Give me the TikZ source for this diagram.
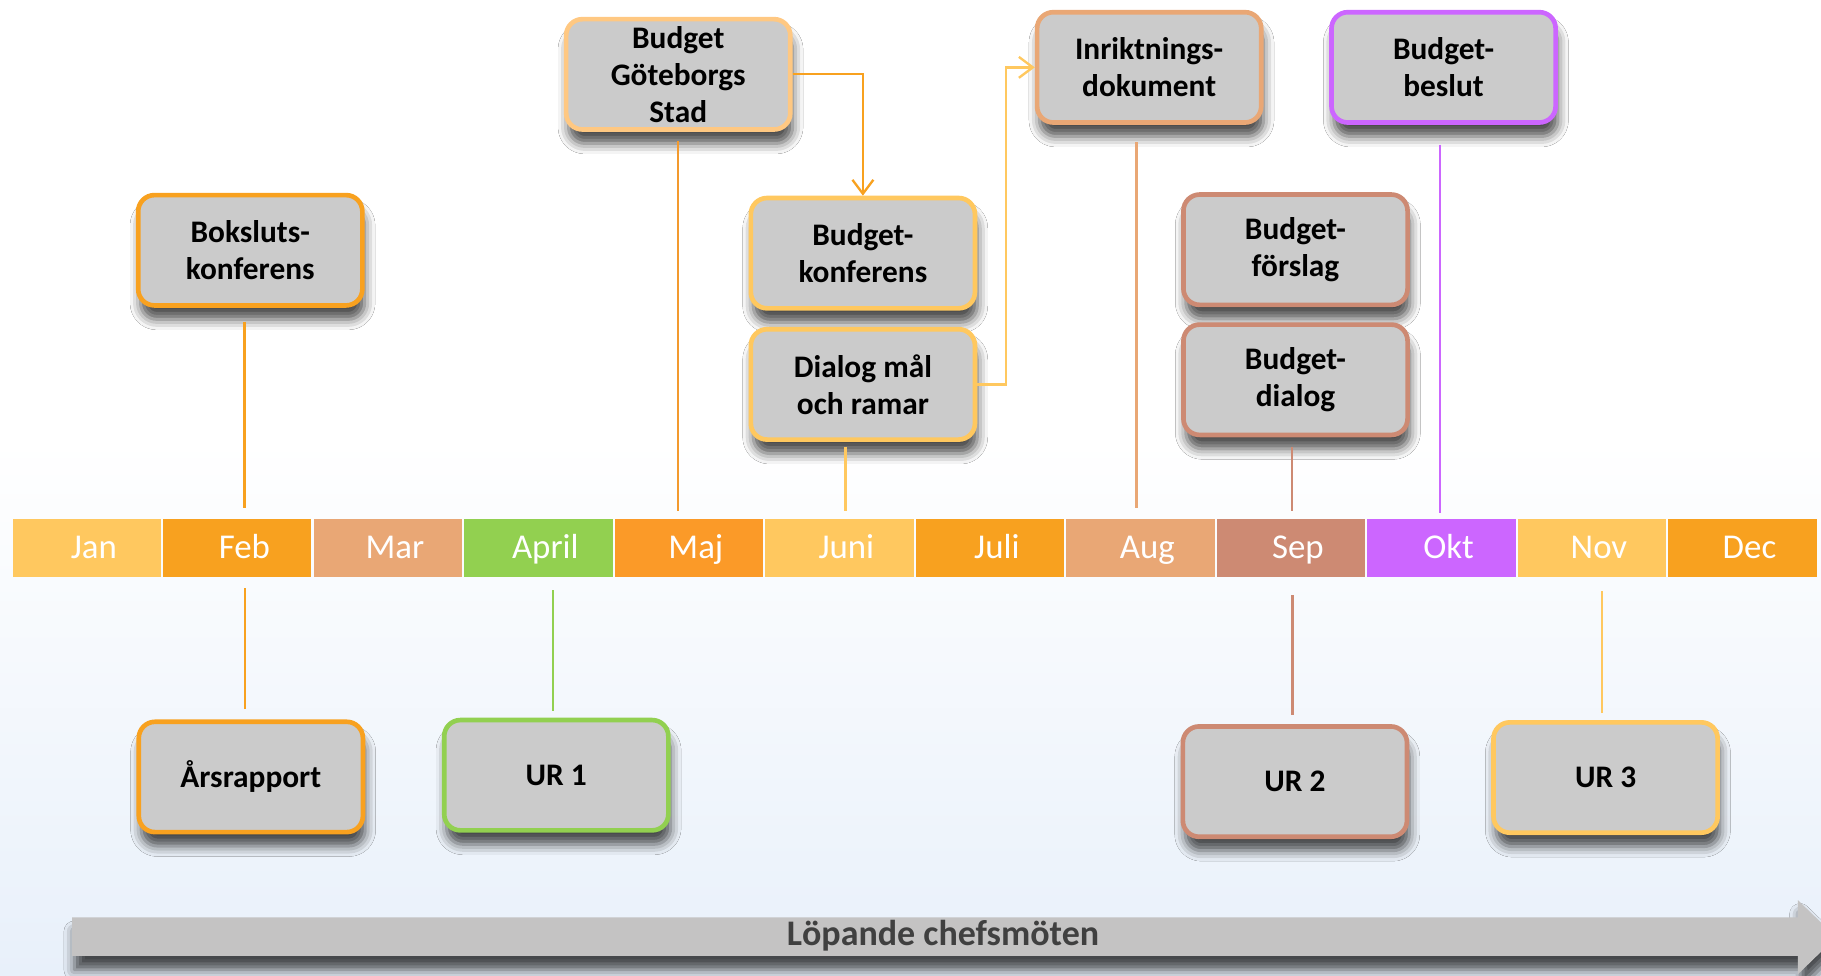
\documentclass[tikz,border=0pt]{standalone}
\usepackage{fontspec}
\setmainfont{Carlito}
\usetikzlibrary{arrows.meta,shadows.blur}

\definecolor{cYel}{HTML}{FFC85F}
\definecolor{cOra}{HTML}{F8A11F}
\definecolor{cMaj}{HTML}{FB9A28}
\definecolor{cTan}{HTML}{E9A775}
\definecolor{cGrn}{HTML}{92D050}
\definecolor{cSep}{HTML}{CD8A73}
\definecolor{cOkt}{HTML}{CC66FF}
\definecolor{cPeach}{HTML}{FFC882}
\definecolor{cLine}{HTML}{F39A2E}
\definecolor{boxGray}{HTML}{CBCBCB}
\definecolor{arrowGray}{HTML}{C4C3C3}
\definecolor{bgBlue}{HTML}{E8F0FA}
\definecolor{txtGray}{HTML}{404040}

\tikzset{
  softshadow/.style={blur shadow={shadow xshift=2pt, shadow yshift=-12pt, shadow opacity=70, shadow blur radius=9pt}},
  box/.style={draw=#1, line width=4pt, fill=boxGray, rounded corners=14pt,
    minimum width=193pt, minimum height=95pt, align=center, inner sep=2pt,
    font=\fontsize{27}{32}\selectfont\bfseries, softshadow},
  month/.style={fill=#1, minimum width=127.6pt, minimum height=50pt, inner sep=0pt},
  monthtxt/.style={text=white, inner sep=0pt, text height=22pt, text depth=4pt, font=\fontsize{30}{36}\selectfont},
  conn/.style={draw=#1, line width=2pt},
  flow/.style={draw=#1, line width=2pt, -{Straight Barb[length=12pt,width=18pt]}},
}

\begin{document}
\begin{tikzpicture}[x=1pt,y=-1pt]
    \useasboundingbox (0,0) rectangle (1568,840);
    \clip (0,0) rectangle (1568,840);

    % background
    \fill[white] (0,0) rectangle (1568,380);
    \shade[top color=white, bottom color=bgBlue] (0,379) rectangle (1568,840);

    % months
    \foreach \lab/\col [count=\i] in {Jan/cYel, Feb/cOra, Mar/cTan, April/cGrn, Maj/cMaj, Juni/cYel,
        Juli/cOra, Aug/cTan, Sep/cSep, Okt/cOkt, Nov/cYel, Dec/cOra}
    {
        \node[month=\col] (m\i) at ({74.8+129.6*(\i-1)},472) {};
        \node[monthtxt] (t\i) at ([xshift=6pt]m\i.center) {\lab};
    }

    % boxes above
    \node[box=cOra] (bok) at (215.5,215.5) {Boksluts-\\konferens};
    \node[box=cPeach] (bgs) at (584,64) {Budget\\Göteborgs\\Stad};
    \node[box=cYel] (bkon) at (743,218) {Budget-\\konferens};
    \node[box=cYel] (dia) at (743,331) {Dialog mål\\och ramar};
    \node[box=cTan] (inr) at (989.5,58) {Inriktnings-\\dokument};
    \node[box=cOkt] (bbes) at (1243,58) {Budget-\\beslut};
    \node[box=cSep] (bfor) at (1115.5,215) {Budget-\\förslag};
    \node[box=cSep] (bdia) at (1115.5,327) {Budget-\\dialog};

    % boxes below
    \node[box=cOra] (ars) at (216,669) {Årsrapport};
    \node[box=cGrn] (ur1) at (479,667.5) {UR 1};
    \node[box=cSep] (ur2) at (1115,673) {UR 2};
    \node[box=cYel] (ur3) at (1382.5,669.5) {UR 3};

    % lines to the months
    \draw[conn=cOra, shorten <=12pt, shorten >=9pt] ([xshift=-5pt]bok.south) -- ([xshift=-5pt]bok.south |- m2.north);
    \draw[conn=cLine, shorten <=8pt, shorten >=7pt] (bgs.south) -- (bgs.south |- m5.north);
    \draw[conn=cYel, shorten <=4pt, shorten >=7pt] ([xshift=-15pt]dia.south) -- ([xshift=-15pt]dia.south |- m6.north);
    \draw[conn=cTan, shorten <=15pt, shorten >=9pt] ([xshift=-11pt]inr.south) -- ([xshift=-11pt]inr.south |- m8.north);
    \draw[conn=cOkt, shorten <=17pt, shorten >=5pt] ([xshift=-3pt]bbes.south) -- ([xshift=-3pt]bbes.south |- m10.north);
    \draw[conn=cSep, shorten <=8pt, shorten >=7pt] ([xshift=-3pt]bdia.south) -- ([xshift=-3pt]bdia.south |- m9.north);

    \draw[conn=cOra, shorten <=9pt, shorten >=9pt] ([xshift=-5pt]ars.north) -- ([xshift=-5pt]ars.north |- m2.south);
    \draw[conn=cGrn, shorten <=6pt, shorten >=11pt] ([xshift=-3pt]ur1.north) -- ([xshift=-3pt]ur1.north |- m4.south);
    \draw[conn=cSep, shorten <=8pt, shorten >=15pt] ([xshift=-2pt]ur2.north) -- ([xshift=-2pt]ur2.north |- m9.south);
    \draw[conn=cYel, shorten <=6pt, shorten >=12pt] ([xshift=-3pt]ur3.north) -- ([xshift=-3pt]ur3.north |- m11.south);

    % flow arrows
    \draw[flow=cOra] (bgs.east) -| (bkon.north);
    \draw[flow=cYel] (dia.east) -- ++(25,0) |- (inr.west);

    % bottom arrow
    \fill[arrowGray, softshadow]
        (62,790) -- (1548,790) -- (1548,775) -- (1581,807) -- (1548,839) -- (1548,823) -- (62,823) -- cycle;
    \node[text=txtGray, font=\fontsize{31}{36}\selectfont\bfseries] (lop) at (812,806) {Löpande chefsmöten};
\end{tikzpicture}
\end{document}
